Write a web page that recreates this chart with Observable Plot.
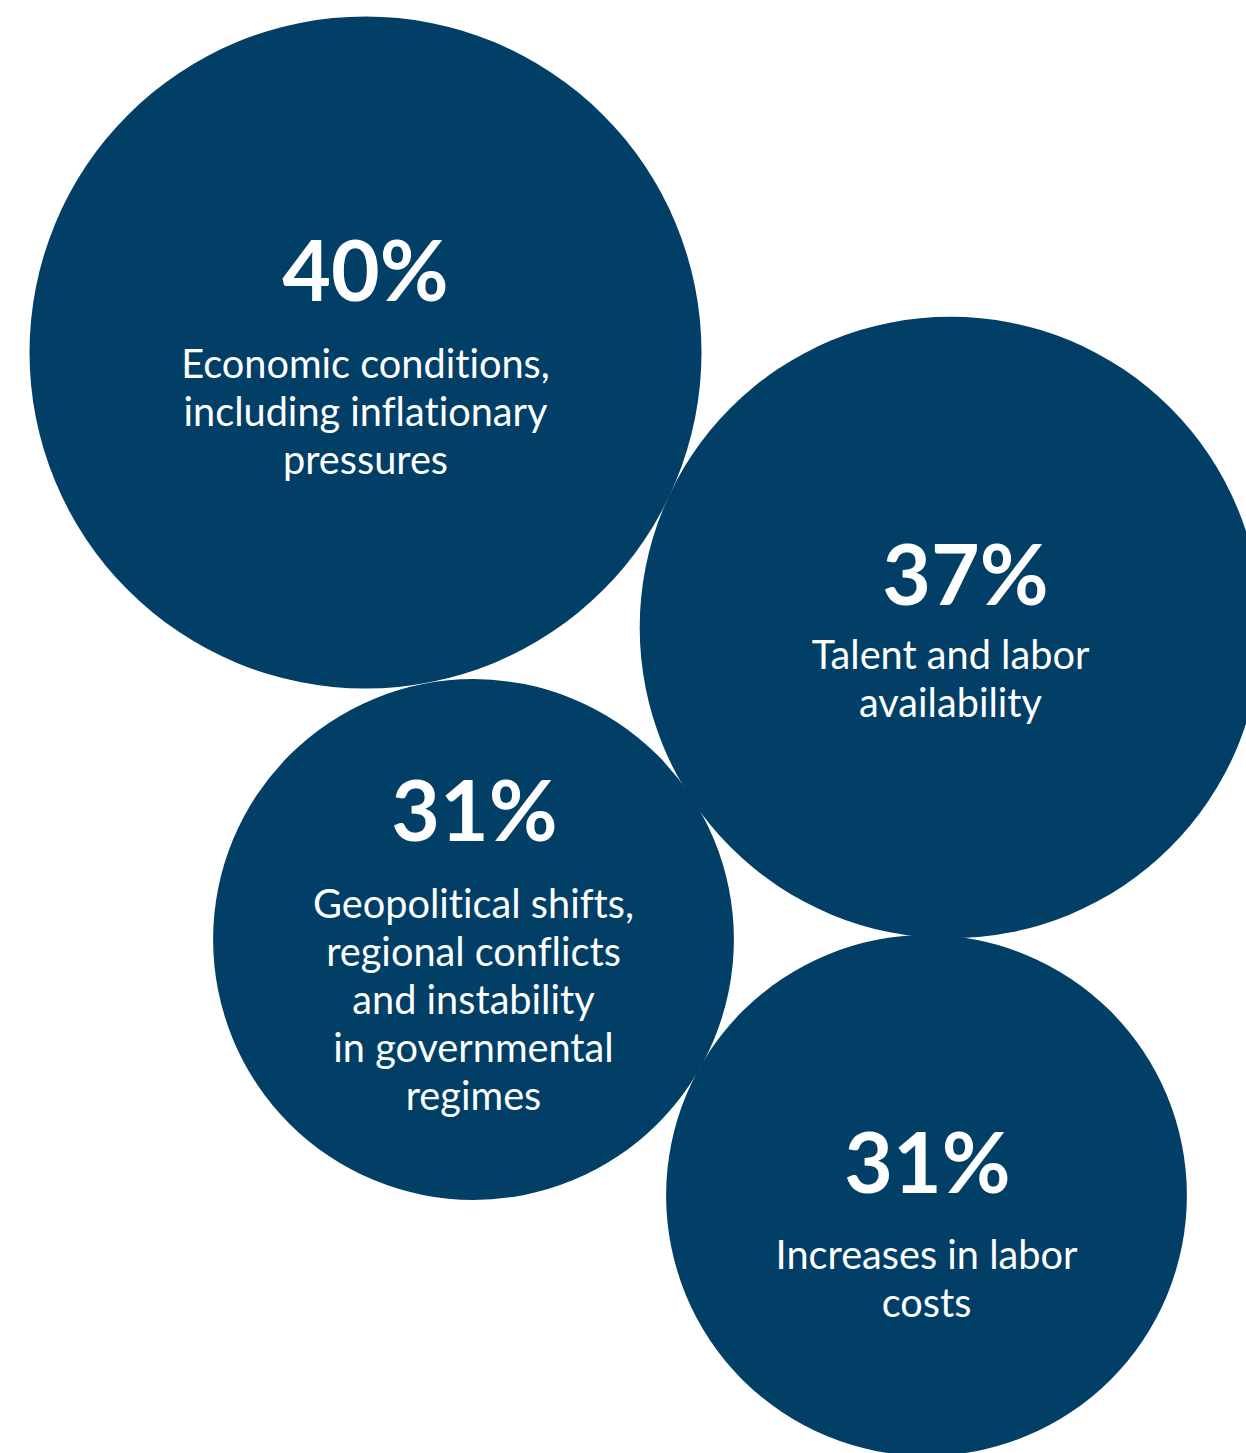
<!DOCTYPE html>
<html>
<head>
<meta charset="utf-8">
<script src="https://cdn.jsdelivr.net/npm/d3@7"></script>
<script src="https://cdn.jsdelivr.net/npm/@observablehq/plot@0.6"></script>
<style>
  html, body { margin: 0; padding: 0; background: #ffffff; }
  #chart svg { display: block; }
  #chart svg text { font-variant-ligatures: none; font-feature-settings: "liga" 0, "dlig" 0; }
</style>
</head>
<body>
<div id="chart"></div>
<script>
// Shares of respondents (%)
const shares = [40, 37, 31, 31];
// Category labels, one entry per line
const labels = [
  ["Economic conditions,", "including inflationary", "pressures"],
  ["Talent and labor", "availability"],
  ["Geopolitical shifts,", "regional conflicts", "and instability", "in governmental", "regimes"],
  ["Increases in labor", "costs"]
];
// Bubble layout (packed positions, in pixel units of the canvas)
const bubbleX = [365, 950, 473, 926];
const bubbleY = [352, 627, 939, 1195];
// Text placement relative to each bubble centre
const numberDx = [0, 15, 1, 1];
const numberDy = [-52, -23, -99, -3];
const labelDy = [25, 41, -22, 73];

const W = 1246, H = 1453;
const navy = "#023f67";
const LINE_GAP = 48;

const bubbles = shares.map((v, i) => ({
  value: v, cx: bubbleX[i], cy: bubbleY[i],
  ndx: numberDx[i], ndy: numberDy[i], ldy: labelDy[i]
}));

const lines = bubbles.flatMap((b, i) =>
  labels[i].map((t, j) => ({ text: t, x: b.cx, y: b.cy + b.ldy + j * LINE_GAP }))
);

const chart = Plot.plot({
  width: W,
  height: H,
  margin: 0,
  x: { domain: [0, W], range: [0, W], axis: null },
  y: { domain: [0, H], range: [0, H], axis: null },
  r: { type: "linear", domain: [0, 40], range: [0, 336] },
  style: { background: "#ffffff" },
  marks: [
    Plot.dot(bubbles, { x: "cx", y: "cy", r: "value", fill: navy, stroke: null }),
    Plot.text(bubbles, {
      x: d => d.cx + d.ndx,
      y: d => d.cy + d.ndy,
      text: d => `${d.value}%`,
      fill: "#ffffff",
      fontSize: 84,
      fontWeight: 700,
      fontFamily: "Lato",
      lineAnchor: "bottom",
      textAnchor: "middle"
    }),
    Plot.text(lines, {
      x: "x",
      y: "y",
      text: "text",
      fill: "#ffffff",
      fontSize: 39.7,
      fontWeight: 400,
      fontFamily: "Lato",
      lineAnchor: "bottom",
      textAnchor: "middle"
    })
  ]
});

document.getElementById("chart").appendChild(chart);
</script>
</body>
</html>
